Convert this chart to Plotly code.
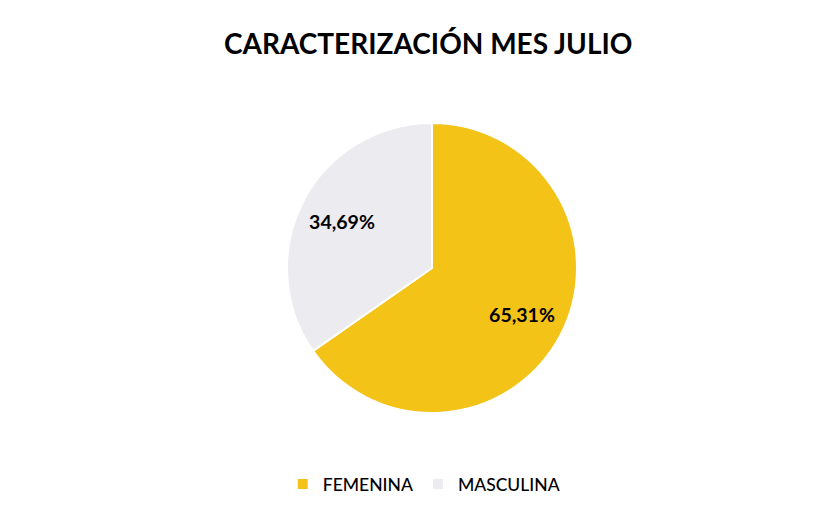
import plotly.graph_objects as go

categories = ["FEMENINA", "MASCULINA"]
values = [65.31, 34.69]
colors = ["#F3C318", "#ECEBF0"]

common = dict(
    labels=categories,
    values=values,
    sort=False,
    direction="clockwise",
    rotation=0,
    hoverinfo="label+percent",
)

fig = go.Figure()
# full pie with slices
fig.add_trace(go.Pie(
    **common,
    marker=dict(colors=colors, line=dict(color="white", width=2)),
    textinfo="none",
))
# transparent ring on top carrying the percentage labels at ~70% radius
fig.add_trace(go.Pie(
    **common,
    hole=0.4,
    marker=dict(colors=["rgba(0,0,0,0)"] * len(values), line=dict(width=0)),
    texttemplate="%{percent:.2%}",
    textposition="inside",
    insidetextorientation="horizontal",
    textfont=dict(family="Lato", size=19.5, color="black", weight="bold"),
    showlegend=False,
))

fig.update_layout(
    width=837, height=515,
    separators=",.",
    paper_bgcolor="white",
    plot_bgcolor="white",
    margin=dict(l=11, r=0, t=115, b=110),
    title=dict(
        text="<b>CARACTERIZACIÓN MES JULIO</b>",
        x=0.502, xanchor="center",
        y=1 - 36/515, yanchor="middle",
        font=dict(family="Lato", size=28, color="black"),
    ),
    legend=dict(
        orientation="h",
        x=0.49, xanchor="center",
        y=-0.245, yanchor="middle",
        font=dict(family="Lato", size=17.5, color="black", weight=500),
        itemwidth=30,
        tracegroupgap=0,
    ),
)

fig.write_html("out.html")
